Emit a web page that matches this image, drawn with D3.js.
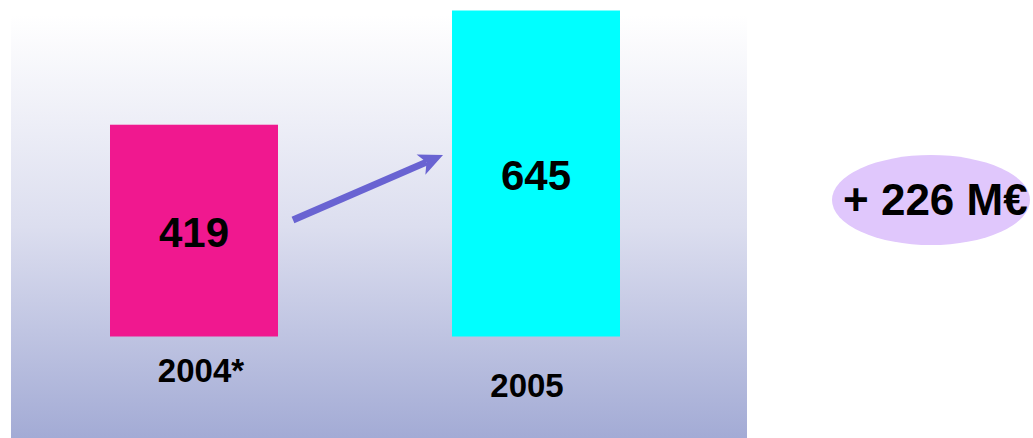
<!DOCTYPE html>
<html>
<head>
<meta charset="utf-8">
<script src="https://cdn.jsdelivr.net/npm/d3@7"></script>
<style>
  html, body { margin: 0; padding: 0; background: #ffffff; }
  svg { display: block; }
  text { font-family: "Liberation Sans", Arial, sans-serif; font-weight: bold; fill: #000; }
</style>
</head>
<body>
<svg id="chart" width="1033" height="438"></svg>
<script>
const categories = ["2004*", "2005"];
const values = [419, 645];
const barColors = ["#f0188f", "#00ffff"];
const deltaLabel = "+ 226 M€";

const W = 1033, H = 438;
const svg = d3.select("#chart");

// background panel with vertical gradient
const defs = svg.append("defs");
const grad = defs.append("linearGradient").attr("id", "bg")
  .attr("x1", 0).attr("y1", 0).attr("x2", 0).attr("y2", 1);
grad.append("stop").attr("offset", "0%").attr("stop-color", "#ffffff");
grad.append("stop").attr("offset", "50%").attr("stop-color", "#dcdeef");
grad.append("stop").attr("offset", "100%").attr("stop-color", "#a3abd5");

svg.append("rect").attr("x", 11).attr("y", 15).attr("width", 736).attr("height", H - 15)
  .attr("fill", "url(#bg)");

// scales
const x = d3.scaleBand().domain(categories).range([110, 620]).paddingInner(0.5088).paddingOuter(0);
const y = d3.scaleLinear().domain([0, 645]).range([336.5, 10.5]);

// bars
svg.selectAll("rect.bar").data(values).enter().append("rect")
  .attr("class", "bar")
  .attr("x", (d, i) => x(categories[i]))
  .attr("y", d => y(d))
  .attr("width", x.bandwidth())
  .attr("height", d => y(0) - y(d))
  .attr("fill", (d, i) => barColors[i]);

// value labels inside bars
svg.selectAll("text.val").data(values).enter().append("text")
  .attr("class", "val")
  .attr("x", (d, i) => x(categories[i]) + x.bandwidth() / 2)
  .attr("y", d => (y(d) + y(0)) / 2 + 16.5)
  .attr("text-anchor", "middle")
  .attr("font-size", 42)
  .text(d => d);

// category labels
const catDx = [7, -9];
const catY = [382, 397];
svg.selectAll("text.cat").data(categories).enter().append("text")
  .attr("class", "cat")
  .attr("x", (d, i) => x(d) + x.bandwidth() / 2 + catDx[i])
  .attr("y", (d, i) => catY[i])
  .attr("text-anchor", "middle")
  .attr("font-size", 33)
  .text(d => d);

// arrow between bars
const tail = [x(categories[0]) + x.bandwidth() + 15, 220];
const tip = [x(categories[1]) - 9, 155];
const dx = tip[0] - tail[0], dy = tip[1] - tail[1];
const len = Math.hypot(dx, dy);
const u = [dx / len, dy / len];
const n = [-u[1], u[0]];
const headLen = 24, headHalf = 11, notch = 18;
const base = [tip[0] - headLen * u[0], tip[1] - headLen * u[1]];
const notchPt = [tip[0] - notch * u[0], tip[1] - notch * u[1]];
const arrowColor = "#6963d2";
svg.append("line")
  .attr("x1", tail[0]).attr("y1", tail[1])
  .attr("x2", notchPt[0]).attr("y2", notchPt[1])
  .attr("stroke", arrowColor).attr("stroke-width", 7);
svg.append("path")
  .attr("d", d3.line()([
    tip,
    [base[0] + headHalf * n[0], base[1] + headHalf * n[1]],
    notchPt,
    [base[0] - headHalf * n[0], base[1] - headHalf * n[1]]
  ]) + "Z")
  .attr("fill", arrowColor);

// delta ellipse
svg.append("ellipse").attr("cx", 931).attr("cy", 200).attr("rx", 99).attr("ry", 45)
  .attr("fill", "#e0c7fc");
svg.append("text").attr("x", 843).attr("y", 215)
  .attr("font-size", 44)
  .text(deltaLabel);
</script>
</body>
</html>
